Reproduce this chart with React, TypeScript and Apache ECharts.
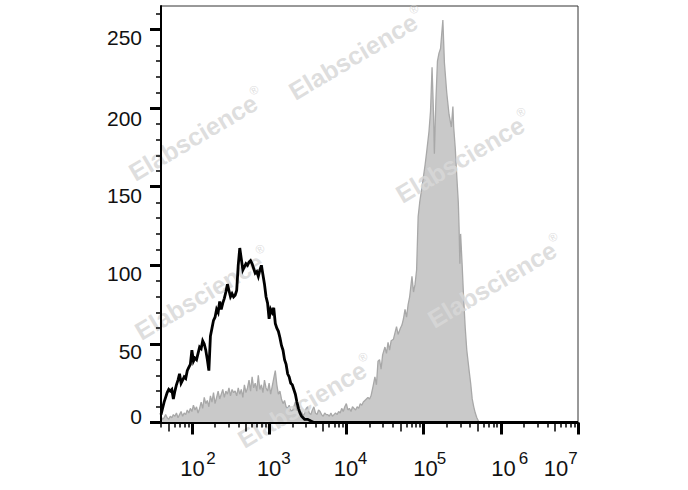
import React, { useEffect, useRef } from "react";
import * as echarts from "echarts";

// ---- axis ranges (log10 of fluorescence intensity on x, event count on y) ----
const xMinLog = 1.6;
const xMaxLog = 7;
const yMin = 0;
const yMax = 265;

// decade ticks and their labels (10^n): base "10" and exponent placed as in the reference
const decadeTicks = [2, 3, 4, 5, 6, 7];
const decadeBaseAnchors = [2.008, 3.0, 3.996, 5.025, 6.035, 6.715];
const decadeExponentAnchors = [2.247, 3.219, 4.209, 5.232, 6.294, 6.935];

// count ticks and labels
const countTicks = [0, 50, 100, 150, 200, 250];
const countLabelAnchors = [4.1, 45, 95.1, 144.6, 193.7, 245.1];
const countMinorTicks = [10, 20, 30, 40, 60, 70, 80, 90, 110, 120, 130, 140, 160, 170, 180, 190, 210, 220, 230, 240, 260];

// watermark centres
const watermarkCenters: [number, number][] = [
  [356, 53],
  [196, 134],
  [463, 156],
  [495, 281],
  [202, 293],
  [305, 401],
];

// ---- isotype control (black line): [log10 intensity, count] ----
const isotypeCounts: [number, number][] = [
  [1.60, 5], [1.62, 9], [1.64, 13], [1.66, 16], [1.68, 19], [1.70, 21], [1.72, 20], [1.74, 21],
  [1.76, 15], [1.78, 20], [1.80, 24], [1.82, 27], [1.84, 31], [1.86, 25], [1.88, 27], [1.90, 29],
  [1.92, 28], [1.94, 33], [1.96, 35], [1.98, 37], [2.00, 46], [2.02, 39], [2.04, 41], [2.06, 40],
  [2.08, 44], [2.10, 48], [2.12, 47], [2.14, 52], [2.16, 50], [2.18, 46], [2.20, 40], [2.22, 33],
  [2.24, 55], [2.26, 60], [2.28, 65], [2.30, 67], [2.32, 72], [2.34, 70], [2.36, 77], [2.38, 72],
  [2.40, 76], [2.42, 79], [2.44, 83], [2.46, 88], [2.48, 84], [2.50, 80], [2.52, 82], [2.54, 80],
  [2.56, 81], [2.58, 84], [2.60, 100], [2.62, 111], [2.64, 104], [2.66, 97], [2.68, 99], [2.70, 101],
  [2.72, 100], [2.74, 102], [2.76, 103], [2.78, 101], [2.80, 98], [2.82, 95], [2.84, 96], [2.86, 93],
  [2.88, 97], [2.90, 100], [2.92, 94], [2.94, 88], [2.96, 80], [2.98, 76], [3.00, 66], [3.02, 72],
  [3.04, 70], [3.06, 73], [3.08, 63], [3.10, 60], [3.12, 58], [3.14, 54], [3.16, 49], [3.18, 46],
  [3.20, 40], [3.22, 37], [3.24, 31], [3.26, 29], [3.28, 25], [3.30, 24], [3.32, 21], [3.34, 18],
  [3.36, 13], [3.38, 9], [3.40, 6], [3.42, 4], [3.44, 3], [3.46, 2], [3.50, 2], [3.54, 1],
  [3.58, 0], [7.00, 0],
];

// ---- stained sample (grey filled histogram): [log10 intensity, count] ----
const stainedCounts: [number, number][] = [
  [1.60, 4], [1.62, 2], [1.64, 3], [1.66, 5], [1.68, 3], [1.70, 2], [1.72, 4], [1.74, 3],
  [1.76, 5], [1.78, 4], [1.80, 6], [1.82, 3], [1.84, 5], [1.86, 7], [1.88, 4], [1.90, 6],
  [1.92, 5], [1.94, 8], [1.96, 6], [1.98, 9], [2.00, 7], [2.02, 11], [2.04, 8], [2.06, 10],
  [2.08, 6], [2.10, 9], [2.12, 13], [2.14, 9], [2.16, 16], [2.18, 12], [2.20, 14], [2.22, 10],
  [2.24, 17], [2.26, 13], [2.28, 19], [2.30, 12], [2.32, 16], [2.34, 20], [2.36, 15], [2.38, 18],
  [2.40, 21], [2.42, 16], [2.44, 20], [2.46, 18], [2.48, 22], [2.50, 17], [2.52, 21], [2.54, 19],
  [2.56, 20], [2.58, 17], [2.60, 22], [2.62, 18], [2.64, 21], [2.66, 16], [2.68, 24], [2.70, 19],
  [2.72, 22], [2.74, 27], [2.76, 20], [2.78, 29], [2.80, 22], [2.82, 25], [2.84, 20], [2.86, 30],
  [2.88, 21], [2.90, 24], [2.92, 19], [2.94, 27], [2.96, 22], [2.98, 20], [3.00, 25], [3.02, 18],
  [3.04, 23], [3.06, 28], [3.08, 33], [3.10, 24], [3.12, 18], [3.14, 20], [3.16, 15], [3.18, 12],
  [3.20, 14], [3.22, 10], [3.24, 9], [3.26, 11], [3.28, 8], [3.30, 7], [3.32, 10], [3.34, 13],
  [3.36, 8], [3.38, 6], [3.40, 5], [3.42, 7], [3.44, 4], [3.46, 6], [3.48, 9], [3.50, 10],
  [3.52, 6], [3.54, 5], [3.56, 8], [3.58, 10], [3.60, 6], [3.62, 5], [3.64, 8], [3.66, 7],
  [3.68, 5], [3.70, 4], [3.72, 6], [3.74, 5], [3.76, 5], [3.78, 4], [3.80, 6], [3.82, 4],
  [3.84, 5], [3.86, 6], [3.88, 5], [3.90, 7], [3.92, 6], [3.94, 9], [3.96, 7], [3.98, 10],
  [4.00, 12], [4.02, 8], [4.04, 9], [4.06, 7], [4.08, 10], [4.10, 9], [4.12, 8], [4.14, 10],
  [4.16, 9], [4.18, 12], [4.20, 11], [4.22, 13], [4.24, 14], [4.26, 15], [4.28, 16], [4.30, 15],
  [4.32, 17], [4.35, 24], [4.37, 29], [4.39, 24], [4.41, 39], [4.43, 40], [4.45, 34], [4.47, 43],
  [4.50, 48], [4.52, 44], [4.54, 51], [4.56, 46], [4.58, 52], [4.61, 53], [4.63, 57], [4.65, 61],
  [4.67, 56], [4.70, 60], [4.72, 62], [4.74, 66], [4.76, 72], [4.78, 67], [4.80, 75], [4.82, 80],
  [4.85, 93], [4.87, 83], [4.89, 88], [4.91, 97], [4.93, 131], [4.95, 140], [4.98, 150], [5.00, 157],
  [5.02, 164], [5.04, 172], [5.07, 185], [5.09, 198], [5.11, 226], [5.13, 195], [5.14, 171], [5.16, 205],
  [5.18, 230], [5.20, 235], [5.22, 238], [5.25, 256], [5.27, 229], [5.30, 210], [5.33, 196], [5.36, 188],
  [5.38, 201], [5.39, 188], [5.41, 175], [5.43, 157], [5.45, 140], [5.46, 124], [5.47, 101], [5.48, 120],
  [5.50, 100], [5.52, 78], [5.54, 60], [5.56, 46], [5.59, 33], [5.61, 25], [5.63, 15], [5.65, 10],
  [5.67, 6], [5.69, 3], [5.72, 0], [7.00, 0],
];

// log minor ticks (k * 10^n)
const minorShort: number[] = [];
const minorLong: number[] = [];
for (let n = 1; n <= 6; n++) {
  for (let k = 2; k <= 9; k++) {
    const v = n + Math.log10(k);
    if (v < xMinLog || v > xMaxLog) continue;
    if (k === 5) minorLong.push(v);
    else minorShort.push(v);
  }
}

const FONT = "Liberation Sans, Arial, sans-serif";

export default function App() {
  const ref = useRef<HTMLDivElement | null>(null);

  useEffect(() => {
    if (!ref.current) return;
    const chart = echarts.init(ref.current, undefined, { renderer: "svg" });

    const baseX = {
      type: "value" as const,
      min: xMinLog,
      max: xMaxLog,
      position: "bottom" as const,
      z: 5,
      splitLine: { show: false },
    };
    const baseY = {
      type: "value" as const,
      min: yMin,
      max: yMax,
      position: "left" as const,
      z: 5,
      splitLine: { show: false },
    };

    const option: any = {
      animation: false,
      grid: {
        left: 161,
        top: 6,
        width: 417,
        height: 416.5,
        show: true,
        borderColor: "#333",
        borderWidth: 1,
        backgroundColor: "transparent",
        containLabel: false,
        outerBoundsMode: "none",
      },
      xAxis: [
        {
          ...baseX,
          axisLine: { show: true, onZero: false, lineStyle: { color: "#000", width: 2 } },
          axisTick: { show: true, customValues: decadeTicks, length: 12, lineStyle: { color: "#000", width: 3 } },
          axisLabel: {
            show: true,
            customValues: decadeBaseAnchors,
            margin: 35,
            fontSize: 22,
            fontFamily: FONT,
            color: "#111",
            formatter: () => "10",
          },
        },
        {
          ...baseX,
          axisLine: { show: false },
          axisTick: { show: false },
          axisLabel: {
            show: true,
            customValues: decadeExponentAnchors,
            margin: 27,
            fontSize: 17,
            fontFamily: FONT,
            color: "#111",
            formatter: (v: number) => String(Math.round(v - 0.25)),
          },
        },
        {
          ...baseX,
          axisLine: { show: false },
          axisTick: { show: true, customValues: minorShort, length: 5, lineStyle: { color: "#000", width: 1.5 } },
          axisLabel: { show: false },
        },
        {
          ...baseX,
          axisLine: { show: false },
          axisTick: { show: true, customValues: minorLong, length: 9, lineStyle: { color: "#000", width: 1.5 } },
          axisLabel: { show: false },
        },
      ],
      yAxis: [
        {
          ...baseY,
          axisLine: { show: true, onZero: false, lineStyle: { color: "#000", width: 2 } },
          axisTick: { show: true, customValues: countTicks, length: 11, lineStyle: { color: "#000", width: 3 } },
          axisLabel: {
            show: true,
            customValues: countLabelAnchors,
            margin: 19,
            fontSize: 21,
            fontFamily: FONT,
            color: "#111",
            formatter: (v: number) => String(Math.round(v / 50) * 50),
          },
        },
        {
          ...baseY,
          axisLine: { show: false },
          axisTick: { show: true, customValues: countMinorTicks, length: 5, lineStyle: { color: "#000", width: 1.5 } },
          axisLabel: { show: false },
        },
      ],
      graphic: watermarkCenters.map(([x, y]) => ({
        type: "text",
        x,
        y,
        rotation: 0.535,
        z: 2,
        silent: true,
        style: {
          text: "{a|Elabscience}{r|®}",
          align: "center",
          verticalAlign: "middle",
          opacity: 0.85,
          rich: {
            a: { fontSize: 25, fontWeight: "bold", fontFamily: FONT, fill: "#d8d8d8", lineHeight: 28, verticalAlign: "bottom" },
            r: { fontSize: 12, fontFamily: FONT, fill: "#d8d8d8", lineHeight: 12, verticalAlign: "top" },
          },
        },
      })),
      series: [
        {
          name: "Stained",
          type: "line",
          xAxisIndex: 0,
          yAxisIndex: 0,
          data: stainedCounts,
          symbol: "none",
          showSymbol: false,
          silent: true,
          z: 1,
          lineStyle: { color: "#a8a8a8", width: 1.3 },
          areaStyle: { color: "#c9c9c9", opacity: 1 },
        },
        {
          name: "Isotype",
          type: "line",
          xAxisIndex: 0,
          yAxisIndex: 0,
          data: isotypeCounts,
          symbol: "none",
          showSymbol: false,
          silent: true,
          z: 3,
          lineStyle: { color: "#000", width: 2.8, join: "miter" },
        },
      ],
    };

    chart.setOption(option);
    return () => chart.dispose();
  }, []);

  return (
    <div
      ref={ref}
      style={{ position: "fixed", left: 0, top: 0, width: 688, height: 490, background: "#fff" }}
    />
  );
}
